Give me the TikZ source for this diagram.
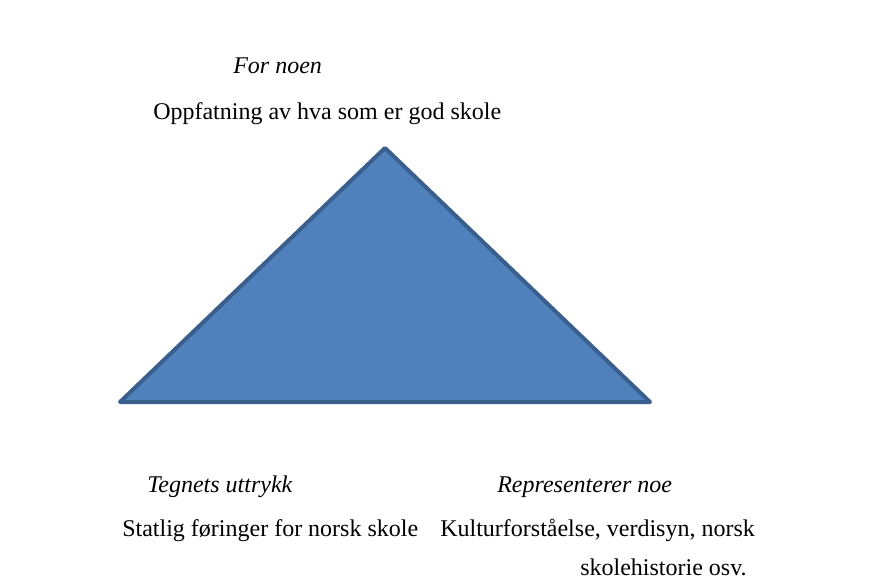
\documentclass[tikz,border=0pt]{standalone}
\usepackage{fontspec}
\setmainfont{Liberation Serif}
\definecolor{trifill}{HTML}{4F81BD}
\definecolor{triline}{HTML}{3A5F8C}
\tikzset{
 tekst/.style={anchor=base west,inner sep=0pt,font=\fontsize{18}{21.6}\selectfont},
 kursiv/.style={tekst,font=\fontsize{18}{21.6}\selectfont\itshape}
}

\begin{document}
\begin{tikzpicture}[x=0.75pt,y=-0.75pt]
 \useasboundingbox (0,0) rectangle (884,581); %画像の大きさ
 \coordinate (T) at (385,148); %頂点
 \coordinate (V) at (120,402); %左下
 \coordinate (H) at (650,402); %右下
 \draw[line width=3pt,line join=round,draw=triline,fill=trifill] (T)--(V)--(H)--cycle; %三角形
 \node[kursiv] (fornoen) at (233,74) {For noen}; %上
 \node[tekst] (oppfatning) at (153,120) {Oppfatning av hva som er god skole};
 \node[kursiv] (uttrykk) at (147,492) {Tegnets uttrykk}; %左下
 \node[tekst] (statlig) at (122,536) {Statlig føringer for norsk skole};
 \node[kursiv] (representerer) at (497,492) {Representerer noe}; %右下
 \node[tekst] (kultur) at (440,536) {Kulturforståelse, verdisyn, norsk};
 \node[tekst] (historie) at (580,575) {skolehistorie osv.};
\end{tikzpicture}
\end{document}
